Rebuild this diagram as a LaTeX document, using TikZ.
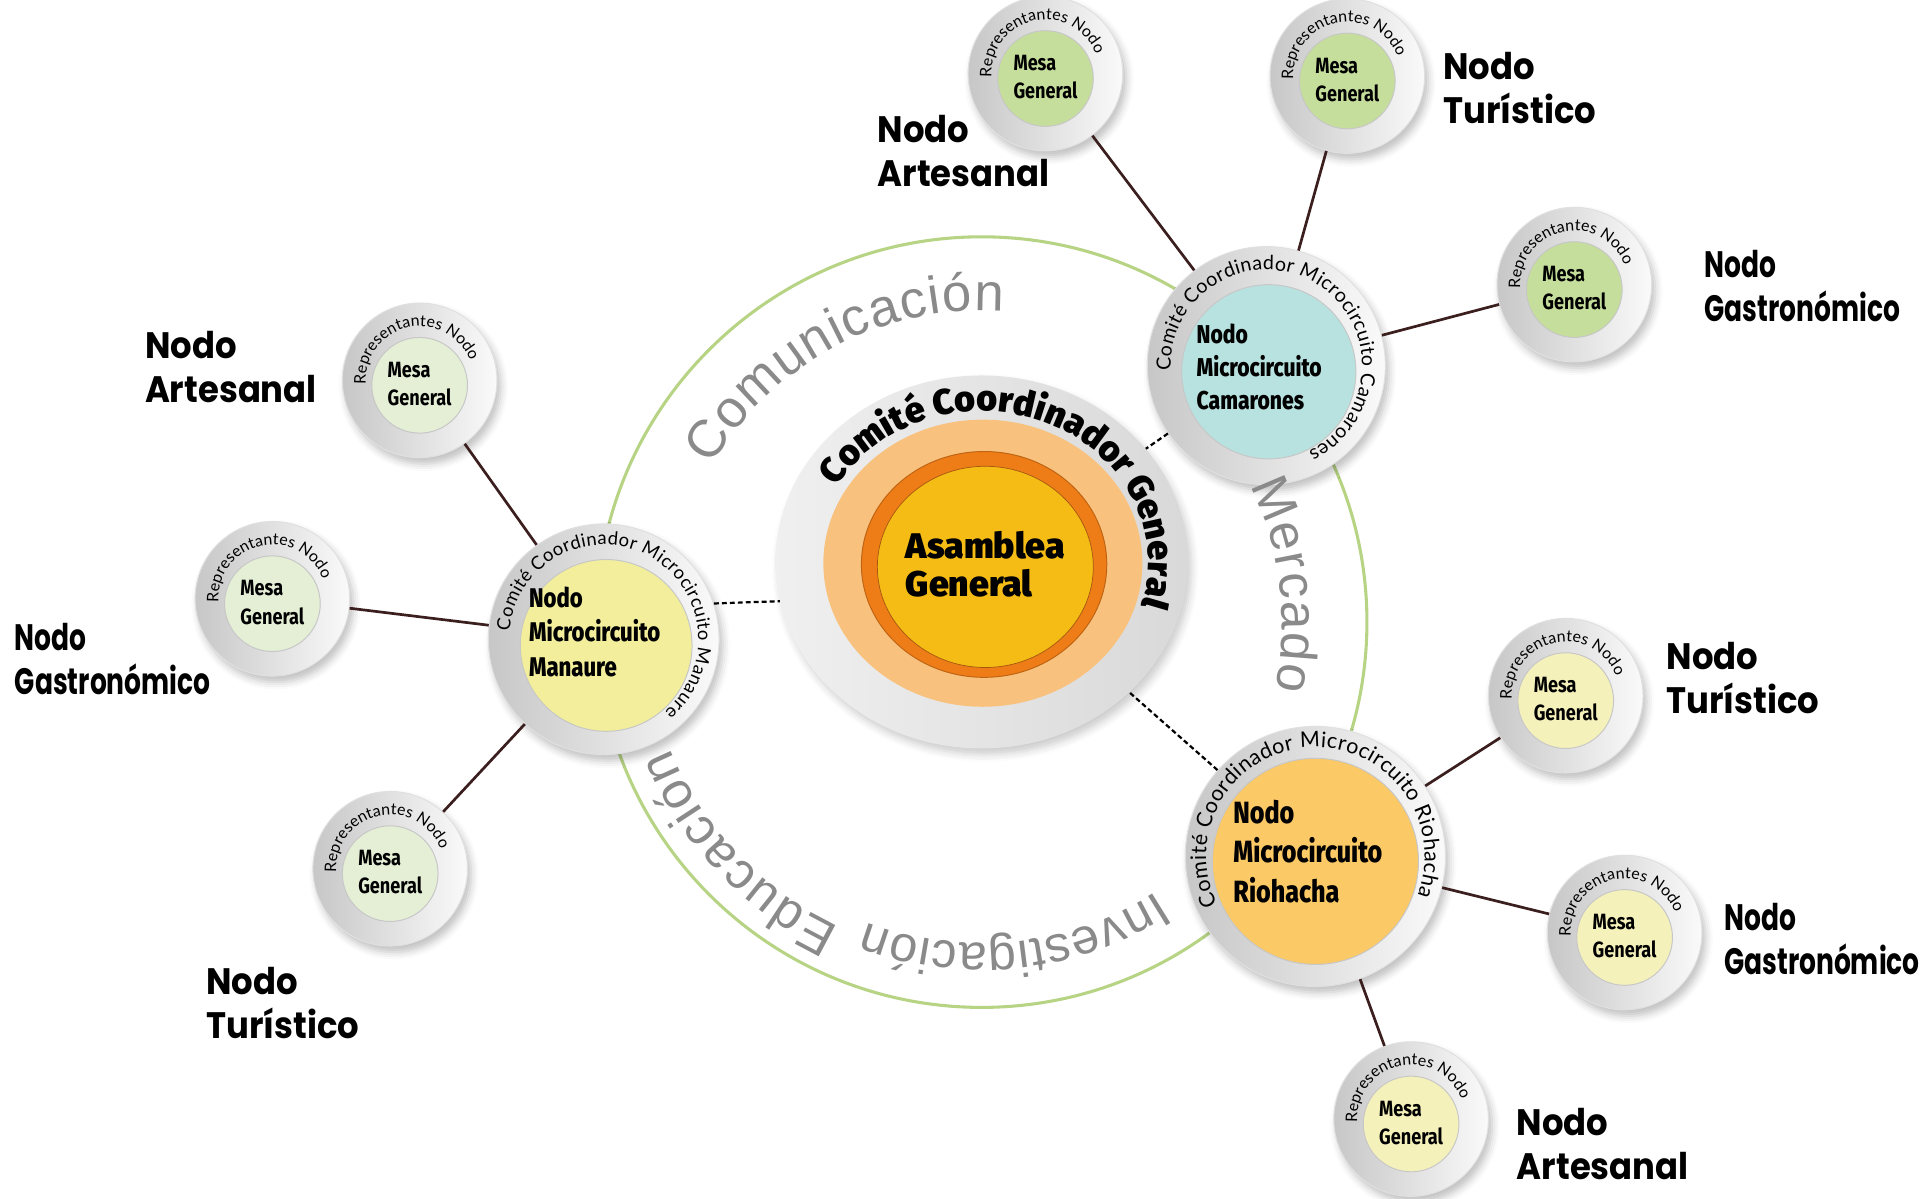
\documentclass[tikz,border=0pt]{standalone}
\usepackage{fontspec}
\setmainfont{Fira Sans}
\newfontfamily\lblfont{Poppins}[FakeStretch=0.92]
\newfontfamily\lblcondfont{Poppins}[FakeStretch=0.72]
\newfontfamily\blackfont{Fira Sans Black}
\newfontfamily\condfont{Fira Sans Bold}[FakeStretch=0.82]
\newfontfamily\microfont{Fira Sans ExtraBold}[FakeStretch=0.82]
\newfontfamily\ringfont{Lato}
\newfontfamily\arialfont{Liberation Sans}
\usetikzlibrary{shapes.geometric,decorations.text,shadows.blur,calc}
\definecolor{greenring}{HTML}{B7D384}
\definecolor{cgreen}{HTML}{C5DE9B}
\definecolor{mgreen}{HTML}{E4EFD6}
\definecolor{ryellow}{HTML}{F5F1BB}
\definecolor{manY}{HTML}{F2EE9C}
\definecolor{camT}{HTML}{B8E2E0}
\definecolor{rioO}{HTML}{FBC965}
\definecolor{lorange}{HTML}{F8C27E}
\definecolor{dorange}{HTML}{EF7D17}
\definecolor{cyellow}{HTML}{F6BC16}
\definecolor{connc}{HTML}{3B1E1E}
\definecolor{wordgray}{HTML}{8A8A8A}
\tikzset{
  ringbase/.style={circle, inner sep=0pt, shade, left color=black!22, right color=black!2, draw=black!12, line width=0.8pt,
    blur shadow={shadow xshift=3pt, shadow yshift=-5pt, shadow blur radius=6pt, shadow opacity=25}},
  smallring/.style={ringbase, minimum size=126pt},
  smalldisc/.style={circle, inner sep=0pt, minimum size=78pt, draw=black!22, line width=0.8pt},
  mesatext/.style={align=left, inner sep=0pt, font=\condfont\fontsize{18}{23}\selectfont},
  microtext/.style={anchor=west, align=left, inner sep=0pt},
  lbl/.style={anchor=north west, align=left, inner sep=0pt, font=\lblfont\bfseries\fontsize{30}{36}\selectfont},
  lblc/.style={anchor=north west, align=left, inner sep=0pt, font=\lblcondfont\bfseries\fontsize{30}{36}\selectfont},
  conn/.style={draw=connc, line width=2.2pt},
  dashln/.style={draw=black, line width=1.8pt, dash pattern=on 4pt off 2.5pt},
  word/.style={decorate, decoration={text along path, text align=fit to path, text color=wordgray}}
}
\newcommand{\mesanode}[3]{%
  \node[smallring] (#1) at #2 {};
  \node[smalldisc, fill=#3] (#1in) at ($(#1)+(0,-4)$) {};
  \node[mesatext] (#1txt) at ($(#1)+(0,-3)$) {Mesa\\General};
  \path[decorate, decoration={text along path, text align=fit to path,
    text={|\ringfont\fontsize{13}{13}\selectfont|Representantes Nodo}}]
    (#1.center) ++(184:44) arc[start angle=184, end angle=21, radius=44];
}
\begin{document}
\begin{tikzpicture}[x=1pt,y=1pt]
\useasboundingbox (0,0) rectangle (1568,977);
% big green circle
\draw[greenring, line width=2.5pt] (800,470) circle[radius=314];
\coordinate (gc) at (800,470);

% central
\node[ellipse, inner sep=0pt, minimum width=336pt, minimum height=304pt, shade, left color=black!6, right color=black!15,
  blur shadow={shadow xshift=3pt, shadow yshift=-5pt, shadow blur radius=6pt, shadow opacity=20}] (cen) at (800,519) {};
\node[ellipse, inner sep=0pt, minimum width=260pt, minimum height=234pt, fill=lorange] (cen2) at (801,518) {};
\node[ellipse, inner sep=0pt, minimum width=200pt, minimum height=184pt, fill=dorange, draw=dorange!80!black, line width=0.8pt] (cen3) at (802,517) {};
\node[ellipse, inner sep=0pt, minimum width=176pt, minimum height=164pt, fill=cyellow, draw=dorange!70!black, line width=0.6pt] (cen4) at (803,515) {};
\node[anchor=west, align=left, inner sep=0pt, font=\blackfont\fontsize{29}{31}\selectfont] (asam) at (738,517) {Asamblea\\General};
\path[decorate, decoration={text along path, text align=fit to path,
  text={|\blackfont\fontsize{29}{29}\selectfont|Comité Coordinador General}}]
  (cen.center) ++(150:136 and 123) arc[start angle=150, end angle=-15, x radius=136, y radius=123];

% Manaure
\node[ringbase, minimum size=188pt] (man) at (492,456) {};
\node[circle, inner sep=0pt, minimum size=140pt, fill=manY, draw=black!22, line width=0.8pt] (manin) at (494,451) {};
\node[microtext, font=\microfont\fontsize{22}{28}\selectfont] (mantxt) at (431,462) {Nodo\\Microcircuito\\Manaure};
\path[decorate, decoration={text along path, text align=fit to path,
  text={|\ringfont\fontsize{15}{15}\selectfont|Comité Coordinador Microcircuito Manaure}}]
  (man.center) ++(175:77) arc[start angle=175, end angle=-50, radius=77];

% Camarones
\node[ringbase, minimum size=194pt] (cam) at (1032,679) {};
\node[circle, inner sep=0pt, minimum size=142pt, fill=camT, draw=black!22, line width=0.8pt] (camin) at (1034,674) {};
\node[microtext, font=\microfont\fontsize{21}{27}\selectfont] (camtxt) at (975,678) {Nodo\\Microcircuito\\Camarones};
\path[decorate, decoration={text along path, text align=fit to path,
  text={|\ringfont\fontsize{16}{16}\selectfont|Comité Coordinador Microcircuito Camarones}}]
  (cam.center) ++(183:78) arc[start angle=183, end angle=-64, radius=78];

% Riohacha
\node[ringbase, minimum size=212pt] (rio) at (1072,279) {};
\node[circle, inner sep=0pt, minimum size=168pt, fill=rioO, draw=black!22, line width=0.8pt] (rioin) at (1072,275) {};
\node[microtext, font=\microfont\fontsize{25}{32}\selectfont] (riotxt) at (1005,283) {Nodo\\Microcircuito\\Riohacha};
\path[decorate, decoration={text along path, text align=fit to path,
  text={|\ringfont\fontsize{17.5}{17.5}\selectfont|Comité Coordinador Microcircuito Riohacha}}]
  (rio.center) ++(206:89) arc[start angle=206, end angle=-21, radius=89];

% words on the green circle
\path[word, decoration={text={|\arialfont\fontsize{43}{43}\selectfont|Comunicación}}]
  (gc) ++(150:254) arc[start angle=150, end angle=86, radius=254];
\path[word, decoration={text={|\arialfont\fontsize{42}{42}\selectfont|Mercado}}]
  (gc) ++(27:245) arc[start angle=27, end angle=-13, radius=245];
\path[word, decoration={text={|\arialfont\fontsize{41}{41}\selectfont|Investigación}}]
  (gc) ++(-57:262) arc[start angle=-57, end angle=-111, radius=262];
\path[word, decoration={text={|\arialfont\fontsize{42}{42}\selectfont|Educación}}]
  (gc) ++(-115:274) arc[start angle=-115, end angle=-158, radius=274];

% small nodes
\mesanode{mA}{(342,667)}{mgreen}
\mesanode{mG}{(222,489)}{mgreen}
\mesanode{mT}{(318,269)}{mgreen}
\mesanode{cA}{(852,917)}{cgreen}
\mesanode{cT}{(1098,915)}{cgreen}
\mesanode{cG}{(1283,745)}{cgreen}
\mesanode{rT}{(1276,410)}{ryellow}
\mesanode{rG}{(1324,217)}{ryellow}
\mesanode{rA}{(1150,65)}{ryellow}

% connectors
\draw[conn] (mA) -- (man);
\draw[conn] (mG) -- (man);
\draw[conn] (mT) -- (man);
\draw[conn] (cA) -- (cam);
\draw[conn] (cT) -- (cam);
\draw[conn] (cG) -- (cam);
\draw[conn] (rT) -- (rio);
\draw[conn] (rG) -- (rio);
\draw[conn] (rA) -- (rio);
\draw[dashln] (man.18) -- (cen.191);
\draw[dashln] (cam) -- (cen);
\draw[dashln] (rio) -- (cen);

% labels
\node[lbl] (lmA) at (118,707) {Nodo\\Artesanal};
\node[lblc] (lmG) at (12,469) {Nodo\\Gastronómico};
\node[lbl] (lmT) at (168,189) {Nodo\\Turístico};
\node[lbl] (lcA) at (715,883) {Nodo\\Artesanal};
\node[lbl] (lcT) at (1176,935) {Nodo\\Turístico};
\node[lblc] (lcG) at (1389,773) {Nodo\\Gastronómico};
\node[lbl] (lrT) at (1358,454) {Nodo\\Turístico};
\node[lblc] (lrG) at (1405,241) {Nodo\\Gastronómico};
\node[lbl] (lrA) at (1236,74) {Nodo\\Artesanal};
\end{tikzpicture}
\end{document}
